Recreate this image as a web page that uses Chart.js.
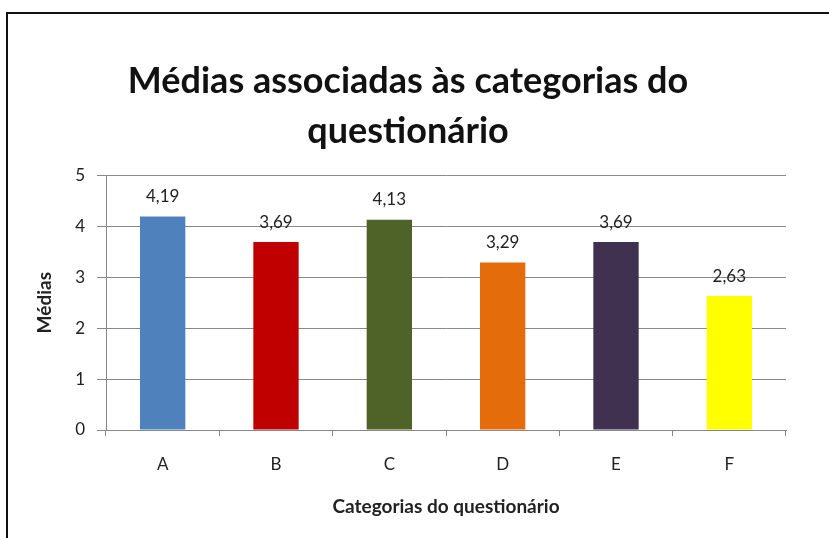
<!DOCTYPE html>
<html>
<head>
<meta charset="utf-8">
<script src="https://cdn.jsdelivr.net/npm/chart.js@4"></script>
<style>
  html, body { margin: 0; padding: 0; background: #fff; }
  #wrap { position: relative; width: 829px; height: 538px; overflow: hidden; }
  #frame { position: absolute; left: 6px; top: 12px; width: 900px; height: 600px;
           border-left: 2px solid #111; border-top: 2px solid #111; pointer-events: none; }
  canvas { position: absolute; left: 0; top: 0; }
</style>
</head>
<body>
<div id="wrap">
  <canvas id="c" width="829" height="538"></canvas>
  <div id="frame"></div>
</div>
<script>
const categories = ['A', 'B', 'C', 'D', 'E', 'F'];
const medias = [4.19, 3.69, 4.13, 3.29, 3.69, 2.63];
const barColors = ['#4F81BD', '#C00000', '#4F6228', '#E46C0A', '#403151', '#FFFF00'];
const yTicks = [0, 1, 2, 3, 4, 5];
const titleLines = ['Médias associadas às categorias do', 'questionário'];
const xTitle = 'Categorias do questionário';
const yTitle = 'Médias';

const FONT = 'Lato, "Open Sans", sans-serif';

const valueLabels = {
  id: 'valueLabels',
  afterDatasetsDraw(chart) {
    const ctx = chart.ctx;
    const meta = chart.getDatasetMeta(0);
    ctx.save();
    ctx.font = '17px ' + FONT;
    ctx.fillStyle = '#222';
    ctx.textAlign = 'center';
    ctx.textBaseline = 'middle';
    meta.data.forEach((el, i) => {
      const txt = medias[i].toFixed(2).replace('.', ',');
      ctx.fillText(txt, el.x, el.y - 20);
    });
    ctx.restore();
  }
};

new Chart(document.getElementById('c'), {
  type: 'bar',
  data: {
    labels: categories,
    datasets: [{
      data: medias,
      backgroundColor: barColors,
      borderWidth: 0,
      barPercentage: 0.4,
      categoryPercentage: 1.0
    }]
  },
  options: {
    responsive: false,
    animation: false,
    devicePixelRatio: 1,
    layout: { padding: { left: 30, right: 43, top: 0, bottom: 0 } },
    plugins: {
      legend: { display: false },
      tooltip: { enabled: false },
      title: {
        display: true,
        text: titleLines,
        color: '#111',
        font: { family: FONT, size: 36, weight: 'bold', lineHeight: 1.38 },
        padding: { top: 57, bottom: 19 }
      }
    },
    scales: {
      x: {
        grid: { drawOnChartArea: false, drawTicks: true, tickLength: 6, color: '#888', offset: true },
        border: { color: '#888', width: 1 },
        ticks: { color: '#222', font: { family: FONT, size: 17 }, padding: 18 },
        title: { display: true, text: xTitle, color: '#222',
                 font: { family: FONT, size: 19, weight: 'bold' }, padding: { top: 0, bottom: 20 } },
        afterFit(scale) { scale.height = 108; }
      },
      y: {
        min: 0, max: 5,
        afterBuildTicks(scale) { scale.ticks = yTicks.map(v => ({ value: v })); },
        grid: { color: '#888', tickLength: 9, lineWidth: 1 },
        border: { color: '#888', width: 1 },
        ticks: { color: '#222', font: { family: FONT, size: 17 }, padding: 12 },
        title: { display: true, text: yTitle, color: '#222',
                 font: { family: FONT, size: 19, weight: 'bold' }, padding: { top: 3, bottom: 0 } },
        afterFit(scale) { scale.width = 76; }
      }
    }
  },
  plugins: [valueLabels]
});
</script>
</body>
</html>
